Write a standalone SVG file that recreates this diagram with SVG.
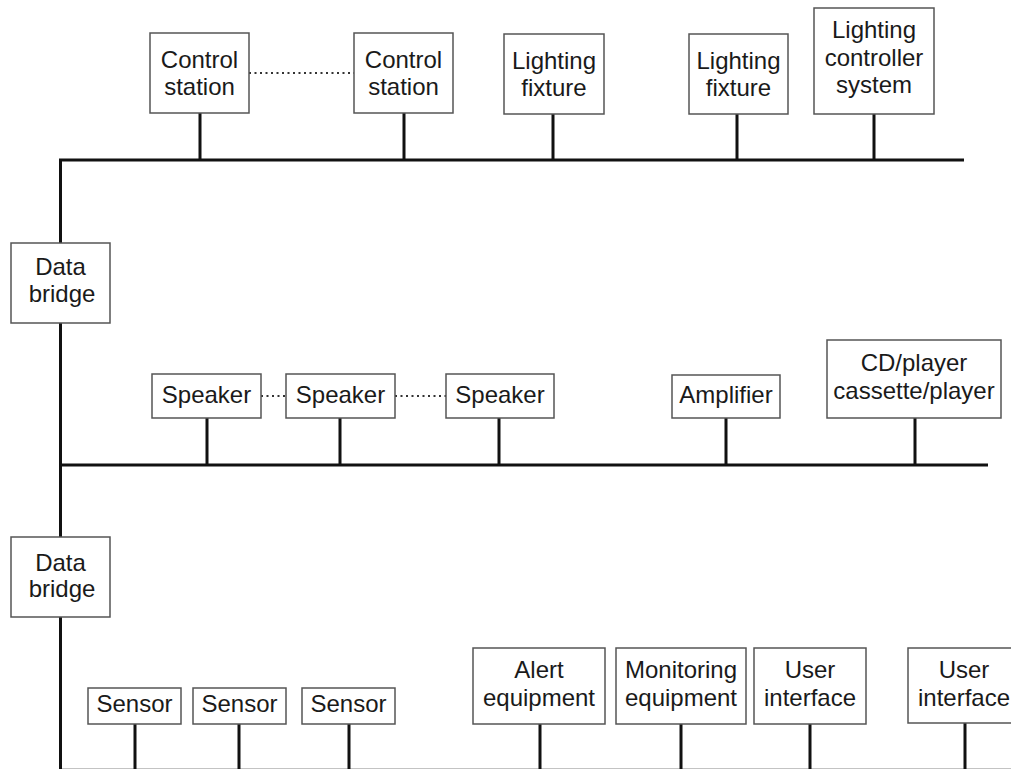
<svg xmlns="http://www.w3.org/2000/svg" width="1011" height="769" viewBox="0 0 1011 769">
<style>
.box{fill:#fff;stroke:#555;stroke-width:1.5}
.t{font-family:"Liberation Sans",Arial,sans-serif;font-size:24px;fill:#1a1a1a;text-anchor:middle}
.bus{stroke:#111;stroke-width:3;fill:none}
.dot{stroke:#333;stroke-width:2;stroke-dasharray:2 3.5;fill:none}
</style>
<rect width="1011" height="769" fill="#fff"/>
<g id="connectors">
<path class="bus" d="M60.5 769 V160 H964"/>
<path class="bus" d="M60.5 465 H988"/>
<path class="bus" d="M60.5 770.3 H1011"/>
<path class="bus" d="M200 113 V160 M404 113 V160 M553 114 V160 M737 114 V160 M874 114 V160"/>
<path class="bus" d="M207 418 V465 M340 418 V465 M499 418 V465 M726 418 V465 M915 418 V465"/>
<path class="bus" d="M135 724 V769 M239 724 V769 M349 724 V769 M540 724 V769 M681 724 V769 M810 724 V769 M965 723 V769"/>
<path class="dot" d="M249 73 H354"/>
<path class="dot" d="M261 396 H286 M395 396 H446"/>
</g>
<g id="cs1"><rect class="box" x="150" y="33" width="99" height="80"/><text class="t" x="199.5" y="68">Control</text><text class="t" x="199.5" y="95">station</text></g>
<g id="cs2"><rect class="box" x="354" y="33" width="99" height="80"/><text class="t" x="403.5" y="68">Control</text><text class="t" x="403.5" y="95">station</text></g>
<g id="lf1"><rect class="box" x="504" y="34" width="100" height="80"/><text class="t" x="554" y="69">Lighting</text><text class="t" x="554" y="96">fixture</text></g>
<g id="lf2"><rect class="box" x="689" y="34" width="99" height="80"/><text class="t" x="738.5" y="69">Lighting</text><text class="t" x="738.5" y="96">fixture</text></g>
<g id="lcs"><rect class="box" x="814" y="8" width="120" height="106"/><text class="t" x="874" y="38">Lighting</text><text class="t" x="874" y="66">controller</text><text class="t" x="874" y="93">system</text></g>
<g id="db1"><rect class="box" x="11" y="243" width="99" height="80"/><text class="t" x="60.5" y="275">Data</text><text class="t" x="62" y="302">bridge</text></g>
<g id="sp1"><rect class="box" x="152" y="374" width="109" height="44"/><text class="t" x="206.5" y="403">Speaker</text></g>
<g id="sp2"><rect class="box" x="286" y="374" width="109" height="44"/><text class="t" x="340.5" y="403">Speaker</text></g>
<g id="sp3"><rect class="box" x="446" y="374" width="108" height="44"/><text class="t" x="500" y="403">Speaker</text></g>
<g id="amp"><rect class="box" x="672" y="375" width="108" height="43"/><text class="t" x="726" y="403">Amplifier</text></g>
<g id="cd"><rect class="box" x="827" y="340" width="174" height="78"/><text class="t" x="914" y="371">CD/player</text><text class="t" x="914" y="399">cassette/player</text></g>
<g id="db2"><rect class="box" x="11" y="537" width="99" height="80"/><text class="t" x="60.5" y="571">Data</text><text class="t" x="62" y="597">bridge</text></g>
<g id="se1"><rect class="box" x="88" y="688" width="93" height="36"/><text class="t" x="134.5" y="712">Sensor</text></g>
<g id="se2"><rect class="box" x="193" y="688" width="93" height="36"/><text class="t" x="239.5" y="712">Sensor</text></g>
<g id="se3"><rect class="box" x="302" y="688" width="93" height="36"/><text class="t" x="348.5" y="712">Sensor</text></g>
<g id="alert"><rect class="box" x="473" y="648" width="132" height="76"/><text class="t" x="539" y="678">Alert</text><text class="t" x="539" y="706">equipment</text></g>
<g id="mon"><rect class="box" x="616" y="648" width="130" height="76"/><text class="t" x="681" y="678">Monitoring</text><text class="t" x="681" y="706">equipment</text></g>
<g id="ui1"><rect class="box" x="754" y="648" width="112" height="76"/><text class="t" x="810" y="678">User</text><text class="t" x="810" y="706">interface</text></g>
<g id="ui2"><rect class="box" x="908" y="648" width="120" height="75"/><text class="t" x="964" y="678">User</text><text class="t" x="964" y="706">interface</text></g>
</svg>
